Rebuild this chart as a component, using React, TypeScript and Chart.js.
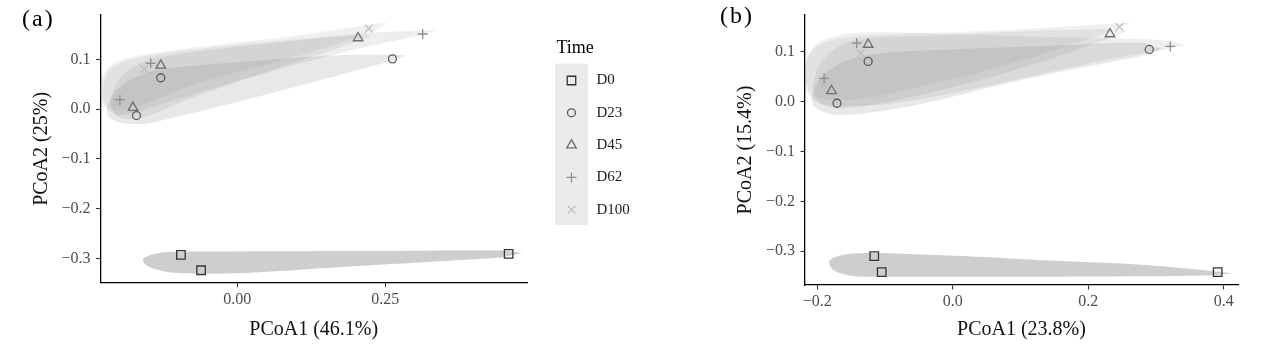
import React, { useEffect, useRef } from 'react';
import { Chart, registerables } from 'chart.js';

Chart.register(...registerables);

const FONT = "'Liberation Serif', 'Times New Roman', Times, serif";

// ---------- groups / legend ----------
const GROUPS = ['D0', 'D23', 'D45', 'D62', 'D100'];
const LEGEND_TITLE = 'Time';
const POINT_STYLES = ['rect', 'circle', 'triangle', 'cross', 'crossRot'];
const POINT_RADII = [6, 4, 5.5, 5, 5.5];
const POINT_COLORS = ['#333333', '#5c5c5c', '#6e6e6e', '#8f8f8f', '#bdbdbd'];
const FILL_COLORS = [
  'rgba(51,51,51,0.24)',
  'rgba(115,115,115,0.16)',
  'rgba(140,140,140,0.16)',
  'rgba(160,160,160,0.18)',
  'rgba(180,180,180,0.2)',
];

// ---------- panel (a) ----------
const A_TAG = '(a)';
const A_X_TITLE = 'PCoA1 (46.1%)';
const A_Y_TITLE = 'PCoA2 (25%)';
const A_X_RANGE = [-0.2307, 0.489];
const A_Y_RANGE = [-0.349, 0.189];
const A_X_TICKS = [0, 0.25];
const A_X_LABELS = ['0.00', '0.25'];
const A_Y_TICKS = [-0.3, -0.2, -0.1, 0, 0.1];
const A_Y_LABELS = ['\u22120.3', '\u22120.2', '\u22120.1', '0.0', '0.1'];

const A_PTS_D0 = [[-0.095, -0.293], [-0.061, -0.324], [0.458, -0.291]];
const A_PTS_D23 = [[-0.129, 0.063], [-0.170, -0.013], [0.262, 0.101]];
const A_PTS_D45 = [[-0.129, 0.088], [-0.176, 0.003], [0.204, 0.143]];
const A_PTS_D62 = [[-0.146, 0.092], [-0.198, 0.019], [0.313, 0.151]];
const A_PTS_D100 = [[-0.157, 0.081], [-0.203, 0.013], [0.222, 0.162]];

const A_HULL_D0 = [
  [0.4809, -0.2893], [0.4438, -0.2845], [0.1904, -0.2855], [-0.0292, -0.2864],
  [-0.1171, -0.2874], [-0.1414, -0.2919], [-0.1559, -0.2981], [-0.1593, -0.3039],
  [-0.1559, -0.3116], [-0.1475, -0.3178], [-0.1171, -0.3275], [-0.063, -0.331],
  [0.0215, -0.3291], [0.2022, -0.3155], [0.3593, -0.3048], [0.4438, -0.299],
];
const A_HULL_D23 = [
  [0.285, 0.1079], [0.2579, 0.1099], [0.1566, 0.1079], [0.0215, 0.0963],
  [-0.0968, 0.0847], [-0.1475, 0.075], [-0.1846, 0.0556], [-0.21, 0.0285],
  [-0.2201, -0.0025], [-0.215, -0.018], [-0.1948, -0.0277], [-0.1559, -0.0297],
  [-0.0968, -0.0141], [0.0215, 0.0207], [0.1566, 0.0634], [0.2579, 0.0963],
];
const A_HULL_D45 = [
  [0.2292, 0.1486], [0.1988, 0.1486], [0.1059, 0.139], [-0.0292, 0.1215],
  [-0.1137, 0.1079], [-0.1644, 0.0924], [-0.1948, 0.0672], [-0.21, 0.0343],
  [-0.2134, 0.0091], [-0.2066, -0.0103], [-0.1846, -0.02], [-0.1559, -0.0161],
  [-0.0968, 0.013], [0.0215, 0.0634], [0.1566, 0.1176], [0.2073, 0.139],
];
const A_HULL_D62 = [
  [0.3373, 0.1583], [0.3086, 0.1574], [0.241, 0.1545], [0.1059, 0.1409],
  [-0.063, 0.1215], [-0.1475, 0.1079], [-0.1897, 0.0963], [-0.215, 0.0789],
  [-0.2252, 0.0533], [-0.2269, 0.0285], [-0.2218, 0.0052], [-0.2049, -0.0103],
  [-0.1813, -0.0103], [-0.1306, 0.0091], [0.0215, 0.0634], [0.1904, 0.1176],
  [0.3086, 0.1486],
];
const A_HULL_D100 = [
  [0.2546, 0.1738], [0.2242, 0.17], [0.1059, 0.1486], [-0.063, 0.1254],
  [-0.1559, 0.1099], [-0.1981, 0.0983], [-0.2184, 0.0828], [-0.2285, 0.0634],
  [-0.2311, 0.0401], [-0.2285, 0.0149], [-0.215, 0.0014], [-0.1897, -0.0006],
  [-0.1559, 0.011], [-0.063, 0.0537], [0.1059, 0.1079], [0.2242, 0.1525],
];

// ---------- panel (b) ----------
const B_TAG = '(b)';
const B_X_TITLE = 'PCoA1 (23.8%)';
const B_Y_TITLE = 'PCoA2 (15.4%)';
const B_X_RANGE = [-0.2182, 0.421];
const B_Y_RANGE = [-0.368, 0.174];
const B_X_TICKS = [-0.2, 0, 0.2, 0.4];
const B_X_LABELS = ['\u22120.2', '0.0', '0.2', '0.4'];
const B_Y_TICKS = [-0.3, -0.2, -0.1, 0, 0.1];
const B_Y_LABELS = ['\u22120.3', '\u22120.2', '\u22120.1', '0.0', '0.1'];

const B_PTS_D0 = [[-0.116, -0.31], [-0.105, -0.342], [0.391, -0.342]];
const B_PTS_D23 = [[-0.125, 0.081], [-0.171, -0.003], [0.29, 0.105]];
const B_PTS_D45 = [[-0.125, 0.115], [-0.179, 0.022], [0.232, 0.136]];
const B_PTS_D62 = [[-0.142, 0.118], [-0.19, 0.047], [0.321, 0.111]];
const B_PTS_D100 = [[-0.136, 0.097], [-0.19, 0.034], [0.246, 0.15]];

const B_HULL_D0 = [
  [0.4142, -0.3444], [0.3649, -0.3373], [0.2837, -0.3276], [0.1435, -0.3189],
  [0.0652, -0.3131], [-0.0337, -0.3073], [-0.1163, -0.3039], [-0.1539, -0.3058],
  [-0.1724, -0.3112], [-0.1813, -0.318], [-0.1824, -0.3238], [-0.1798, -0.3334],
  [-0.1694, -0.3431], [-0.1488, -0.3498], [-0.1075, -0.3514], [0.0697, -0.3514],
  [0.2911, -0.3504], [0.3796, -0.3488],
];
const B_HULL_D23 = [
  [0.3103, 0.1048], [0.2763, 0.1183], [0.1435, 0.1125], [-0.0041, 0.1048],
  [-0.1075, 0.0971], [-0.1591, 0.0817], [-0.193, 0.0508], [-0.2078, 0.0122],
  [-0.2034, -0.011], [-0.1813, -0.0245], [-0.137, -0.0245], [-0.0484, -0.0052],
  [0.0992, 0.0431], [0.2763, 0.0913],
];
const B_HULL_D45 = [
  [0.2556, 0.1415], [0.2173, 0.1454], [0.0697, 0.1396], [-0.0484, 0.1319],
  [-0.1222, 0.128], [-0.1665, 0.1125], [-0.196, 0.0759], [-0.2063, 0.0315],
  [-0.1989, 0.0006], [-0.1739, -0.0129], [-0.1222, -0.0071], [-0.0041, 0.0276],
  [0.1435, 0.0855], [0.2321, 0.128],
];
const B_HULL_D62 = [
  [0.3442, 0.1145], [0.3058, 0.1241], [0.1435, 0.1299], [-0.0041, 0.1357],
  [-0.1075, 0.1396], [-0.1591, 0.1357], [-0.196, 0.1203], [-0.2137, 0.0894],
  [-0.2174, 0.0508], [-0.2137, 0.016], [-0.196, -0.0033], [-0.1591, -0.0091],
  [-0.0779, -0.0014], [0.0697, 0.0373], [0.2173, 0.0817], [0.3132, 0.1048],
];
const B_HULL_D100 = [
  [0.2645, 0.1589], [0.2173, 0.1551], [0.0697, 0.1434], [-0.0779, 0.1357],
  [-0.1517, 0.1299], [-0.193, 0.1164], [-0.2137, 0.0932], [-0.2174, 0.0662],
  [-0.2152, 0.0315], [-0.2034, 0.0102], [-0.1739, 0.0025], [-0.1075, 0.0122],
  [0.0697, 0.0701], [0.2173, 0.1338],
];

const A_PTS = [A_PTS_D0, A_PTS_D23, A_PTS_D45, A_PTS_D62, A_PTS_D100];
const A_HULLS = [A_HULL_D0, A_HULL_D23, A_HULL_D45, A_HULL_D62, A_HULL_D100];
const B_PTS = [B_PTS_D0, B_PTS_D23, B_PTS_D45, B_PTS_D62, B_PTS_D100];
const B_HULLS = [B_HULL_D0, B_HULL_D23, B_HULL_D45, B_HULL_D62, B_HULL_D100];

function toXY(arr: number[][]) {
  return arr.map(([x, y]) => ({ x, y }));
}

function buildDatasets(pts: number[][][], hulls: number[][][]) {
  const ds: any[] = [];
  GROUPS.forEach((g, i) => {
    ds.push({
      label: g + ' region',
      data: toXY(hulls[i]),
      showLine: true,
      fill: 'shape',
      backgroundColor: FILL_COLORS[i],
      borderColor: 'rgba(0,0,0,0)',
      borderWidth: 0,
      pointRadius: 0,
      pointHoverRadius: 0,
      tension: 0.3,
      order: 2,
    });
  });
  GROUPS.forEach((g, i) => {
    ds.push({
      label: g,
      data: toXY(pts[i]),
      showLine: false,
      pointStyle: POINT_STYLES[i],
      pointRadius: POINT_RADII[i],
      pointBorderWidth: 1.3,
      borderColor: POINT_COLORS[i],
      backgroundColor: 'rgba(0,0,0,0)',
      order: 1,
    });
  });
  return ds;
}

function drawSymbol(ctx: CanvasRenderingContext2D, style: string, x: number, y: number, r: number, color: string) {
  ctx.save();
  ctx.strokeStyle = color;
  ctx.lineWidth = 1.3;
  ctx.beginPath();
  if (style === 'rect') {
    const s = Math.SQRT1_2 * r;
    ctx.rect(x - s, y - s, 2 * s, 2 * s);
  } else if (style === 'circle') {
    ctx.arc(x, y, r, 0, Math.PI * 2);
  } else if (style === 'triangle') {
    ctx.moveTo(x, y - r);
    ctx.lineTo(x + 0.866 * r, y + 0.5 * r);
    ctx.lineTo(x - 0.866 * r, y + 0.5 * r);
    ctx.closePath();
  } else if (style === 'cross') {
    ctx.moveTo(x - r, y);
    ctx.lineTo(x + r, y);
    ctx.moveTo(x, y - r);
    ctx.lineTo(x, y + r);
  } else {
    const o = Math.SQRT1_2 * r;
    ctx.moveTo(x - o, y - o);
    ctx.lineTo(x + o, y + o);
    ctx.moveTo(x - o, y + o);
    ctx.lineTo(x + o, y - o);
  }
  ctx.stroke();
  ctx.restore();
}

function tagPlugin(text: string, x: number, y: number) {
  return {
    id: 'tag',
    afterDraw(chart: any) {
      const ctx = chart.ctx as CanvasRenderingContext2D;
      ctx.save();
      ctx.font = `24px ${FONT}`;
      (ctx as any).letterSpacing = '2px';
      ctx.fillStyle = '#000';
      ctx.textBaseline = 'middle';
      ctx.textAlign = 'left';
      ctx.fillText(text, x, y);
      ctx.restore();
    },
  };
}

const legendPlugin = {
  id: 'timeLegend',
  afterDraw(chart: any) {
    const ctx = chart.ctx as CanvasRenderingContext2D;
    ctx.save();
    ctx.fillStyle = '#000';
    ctx.font = `18px ${FONT}`;
    ctx.textBaseline = 'middle';
    ctx.textAlign = 'left';
    ctx.fillText(LEGEND_TITLE, 556.5, 48);
    ctx.fillStyle = '#ebebeb';
    ctx.fillRect(555, 63.5, 33, 161.5);
    ctx.font = `15px ${FONT}`;
    GROUPS.forEach((g, i) => {
      const cy = 80.5 + i * 32.3;
      drawSymbol(ctx, POINT_STYLES[i], 571.5, cy, POINT_RADII[i], POINT_COLORS[i]);
      ctx.fillStyle = '#1a1a1a';
      ctx.fillText(g, 596.5, cy);
    });
    ctx.restore();
  },
};

function makeOptions(cfg: any) {
  const tickFont = { family: FONT, size: 16 };
  const titleFont = { family: FONT, size: 20 };
  const grid = {
    display: true,
    drawOnChartArea: false,
    drawTicks: true,
    tickLength: 4.5,
    tickColor: '#333',
    tickWidth: 1.1,
  };
  const border = { display: true, color: '#000', width: 1.3 };
  return {
    responsive: false,
    animation: false,
    devicePixelRatio: 1,
    events: [],
    layout: { autoPadding: false, padding: { left: 0, right: cfg.padRight, top: cfg.padTop, bottom: 0 } },
    plugins: { legend: { display: false }, tooltip: { enabled: false } },
    scales: {
      x: {
        type: 'linear',
        position: 'bottom',
        min: cfg.xRange[0],
        max: cfg.xRange[1],
        afterBuildTicks: (s: any) => {
          s.ticks = cfg.xTicks.map((v: number) => ({ value: v }));
        },
        afterFit: (s: any) => {
          s.height = cfg.xAxisH;
        },
        grid,
        border,
        ticks: {
          callback: (_v: any, i: number) => cfg.xLabels[i],
          font: tickFont,
          color: '#4d4d4d',
          padding: 3,
          maxRotation: 0,
          autoSkip: false,
        },
        title: { display: true, text: cfg.xTitle, font: titleFont, color: '#111', padding: { top: 0, bottom: 11 } },
      },
      y: {
        type: 'linear',
        position: 'left',
        min: cfg.yRange[0],
        max: cfg.yRange[1],
        afterBuildTicks: (s: any) => {
          s.ticks = cfg.yTicks.map((v: number) => ({ value: v }));
        },
        afterFit: (s: any) => {
          s.width = cfg.yAxisW;
        },
        grid,
        border,
        ticks: {
          callback: (_v: any, i: number) => cfg.yLabels[i],
          font: tickFont,
          color: '#4d4d4d',
          padding: 5.5,
          autoSkip: false,
        },
        title: { display: true, text: cfg.yTitle, font: titleFont, color: '#111', padding: { top: cfg.yTitlePad, bottom: 0 } },
      },
    },
  };
}

export default function App() {
  const refA = useRef<HTMLCanvasElement>(null);
  const refB = useRef<HTMLCanvasElement>(null);

  useEffect(() => {
    Chart.defaults.font.family = FONT;
    const chartA = new Chart(refA.current as HTMLCanvasElement, {
      type: 'scatter',
      data: { datasets: buildDatasets(A_PTS, A_HULLS) },
      options: makeOptions({
        padRight: 173,
        padTop: 5,
        xAxisH: 70.3,
        yAxisW: 100.5,
        xRange: A_X_RANGE,
        yRange: A_Y_RANGE,
        xTicks: A_X_TICKS,
        xLabels: A_X_LABELS,
        yTicks: A_Y_TICKS,
        yLabels: A_Y_LABELS,
        xTitle: A_X_TITLE,
        yTitle: A_Y_TITLE,
        yTitlePad: 30,
      }) as any,
      plugins: [tagPlugin(A_TAG, 22, 20), legendPlugin],
    });
    const chartB = new Chart(refB.current as HTMLCanvasElement, {
      type: 'scatter',
      data: { datasets: buildDatasets(B_PTS, B_HULLS) },
      options: makeOptions({
        padRight: 44,
        padTop: 4,
        xAxisH: 68,
        yAxisW: 105,
        xRange: B_X_RANGE,
        yRange: B_Y_RANGE,
        xTicks: B_X_TICKS,
        xLabels: B_X_LABELS,
        yTicks: B_Y_TICKS,
        yLabels: B_Y_LABELS,
        xTitle: B_X_TITLE,
        yTitle: B_Y_TITLE,
        yTitlePad: 34,
      }) as any,
      plugins: [tagPlugin(B_TAG, 20, 17)],
    });
    return () => {
      chartA.destroy();
      chartB.destroy();
    };
  }, []);

  return (
    <div style={{ position: 'absolute', left: 0, top: 0, width: 1282, height: 353, background: '#fff' }}>
      <canvas ref={refA} width={700} height={353} style={{ position: 'absolute', left: 0, top: 0, width: 700, height: 353 }} />
      <canvas ref={refB} width={582} height={353} style={{ position: 'absolute', left: 700, top: 0, width: 582, height: 353 }} />
    </div>
  );
}
